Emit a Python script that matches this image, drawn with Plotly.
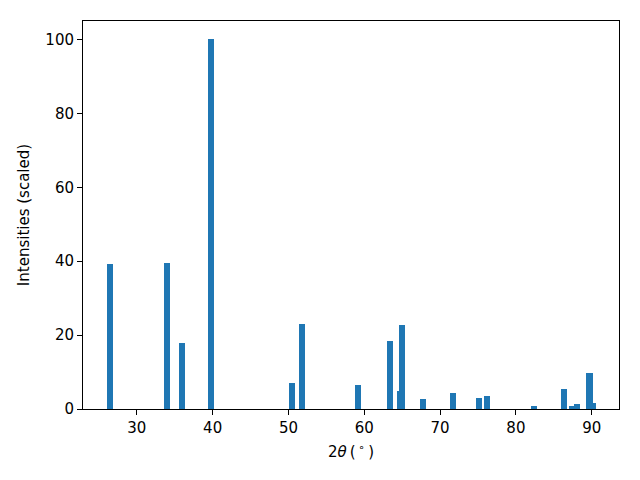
import plotly.graph_objects as go

two_theta = [26.47, 34.0, 36.0, 39.83, 50.41, 51.73, 59.14, 63.37, 64.7, 64.97,
             67.74, 71.7, 75.15, 76.2, 82.4, 86.3, 87.35, 88.0, 89.63, 89.77, 90.1]
intensity = [39.3, 39.6, 17.9, 100.0, 7.0, 23.0, 6.5, 18.4, 4.9, 22.8,
             2.7, 4.3, 3.0, 3.5, 0.8, 5.4, 0.8, 1.4, 9.8, 9.8, 1.6]
x_ticks = [30, 40, 50, 60, 70, 80, 90]
y_ticks = [0, 20, 40, 60, 80, 100]

fig = go.Figure(go.Bar(x=two_theta, y=intensity, width=0.8,
                       marker=dict(color="#1f77b4", line=dict(width=0))))

font = dict(family="DejaVu Sans", size=15, color="black")
axis_common = dict(showline=True, linecolor="black", linewidth=1, mirror=True,
                   ticks="outside", ticklen=5, tickwidth=1, tickcolor="black",
                   showgrid=False, zeroline=False, tickfont=font, automargin=False)

fig.update_layout(
    width=640, height=480,
    margin=dict(l=83, r=21, t=21, b=71),
    plot_bgcolor="white", paper_bgcolor="white",
    showlegend=False, bargap=0,
    xaxis=dict(range=[22.9, 93.6], tickvals=x_ticks,
               title=dict(text="2<i>θ</i>\u2009(\u2009<sup>∘</sup>\u2009)", font=font, standoff=10),
               **axis_common),
    yaxis=dict(range=[0, 105], tickvals=y_ticks,
               title=dict(text="Intensities (scaled)", font=font, standoff=12),
               **axis_common),
)

fig.write_html("out.html", config={"displayModeBar": False},
               post_script="document.body.style.margin='0';")
